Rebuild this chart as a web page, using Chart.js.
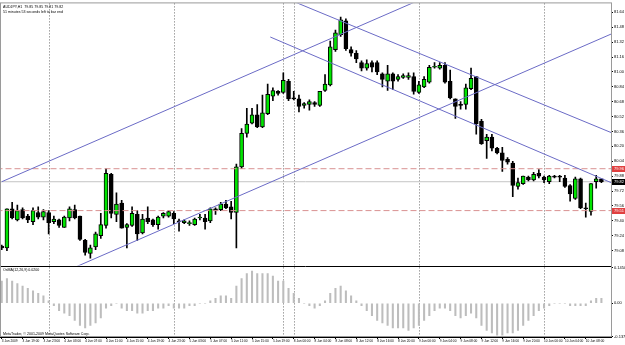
<!DOCTYPE html>
<html>
<head>
<meta charset="utf-8">
<script src="https://cdn.jsdelivr.net/npm/chart.js@4.4.0/dist/chart.umd.min.js"></script>
<style>
    html, body { margin: 0; padding: 0; background: #fff; }
    canvas { display: block; }
</style>
</head>
<body>
<canvas id="myChart" width="625" height="345"></canvas>
<script>
// AUDJPY H1 candles, one entry per hour
const openP = [79.13,79.11,79.53,79.41,79.52,79.45,79.39,79.49,79.44,79.49,79.39,79.41,79.33,79.43,79.52,79.45,79.19,79.05,79.12,79.24,
    79.35,79.90,79.47,79.59,79.33,79.35,79.47,79.27,79.43,79.41,79.36,79.45,79.45,79.48,79.40,79.38,79.37,79.36,79.43,79.43,
    79.40,79.53,79.52,79.58,79.55,79.49,79.98,80.34,80.45,80.54,80.41,80.55,80.74,80.79,80.78,80.90,80.72,80.71,80.64,80.65,
    80.67,80.64,80.80,80.86,81.24,81.40,81.55,81.24,81.20,81.10,81.04,81.10,81.10,80.98,80.90,80.98,80.92,80.94,80.94,80.95,
    80.78,80.84,80.89,81.05,81.04,81.07,80.90,80.71,80.65,80.65,80.82,80.95,80.47,80.26,80.30,80.18,80.13,80.06,80.02,79.77,
    79.80,79.87,79.84,79.91,79.87,79.82,79.88,79.88,79.86,79.78,79.64,79.85,79.54,79.50,79.82,79.85]
const highP = [79.14,79.53,79.60,79.57,79.54,79.47,79.54,79.55,79.52,79.51,79.45,79.42,79.45,79.55,79.57,79.45,79.20,79.14,79.28,79.48,
    79.96,79.91,79.70,79.62,79.37,79.55,79.51,79.47,79.55,79.42,79.45,79.49,79.51,79.50,79.42,79.41,79.40,79.43,79.47,79.47,
    79.54,79.54,79.60,79.62,79.61,80.01,80.39,80.61,80.61,80.65,80.75,80.87,80.83,80.80,80.99,80.92,80.79,80.75,80.67,80.70,
    80.68,80.79,80.97,81.33,81.45,81.59,81.57,81.27,81.23,81.12,81.13,81.12,81.12,80.99,81.07,80.99,80.97,80.98,80.99,80.99,
    80.90,80.95,81.07,81.10,81.10,81.10,81.02,80.71,80.68,80.87,81.04,80.95,80.49,80.33,80.33,80.19,80.19,80.08,80.04,79.86,
    79.88,79.88,79.92,79.95,79.88,79.89,79.89,79.89,79.89,79.79,79.87,79.86,79.59,79.80,79.89,79.85]
const lowP = [79.09,79.08,79.42,79.40,79.42,79.38,79.36,79.42,79.41,79.26,79.37,79.33,79.33,79.40,79.42,79.19,79.03,79.00,79.09,79.21,
    79.32,79.43,79.39,79.32,79.11,79.34,79.19,79.26,79.37,79.34,79.31,79.43,79.44,79.37,79.29,79.37,79.35,79.35,79.41,79.31,
    79.38,79.47,79.51,79.53,79.42,79.11,79.96,80.30,80.44,80.40,80.40,80.54,80.69,80.75,80.77,80.69,80.70,80.57,80.61,80.59,
    80.63,80.63,80.79,80.85,81.22,81.38,81.23,81.17,81.10,81.01,81.02,81.00,80.97,80.84,80.80,80.81,80.90,80.93,80.92,80.76,
    80.77,80.83,80.88,81.04,81.03,80.88,80.71,80.50,80.60,80.60,80.81,80.33,80.22,80.07,80.15,80.12,79.93,80.01,79.66,79.74,
    79.79,79.83,79.83,79.86,79.81,79.80,79.86,79.82,79.76,79.61,79.63,79.53,79.44,79.46,79.75,79.81]
const closeP = [79.11,79.53,79.43,79.51,79.43,79.41,79.51,79.44,79.50,79.38,79.42,79.35,79.44,79.53,79.43,79.20,79.06,79.11,79.26,79.36,
    79.91,79.48,79.58,79.32,79.36,79.48,79.26,79.42,79.39,79.36,79.44,79.48,79.50,79.42,79.39,79.40,79.38,79.42,79.44,79.39,
    79.53,79.51,79.58,79.54,79.49,79.98,80.34,80.44,80.54,80.41,80.56,80.76,80.80,80.77,80.91,80.71,80.71,80.63,80.66,80.68,
    80.65,80.79,80.87,81.27,81.42,81.56,81.25,81.20,81.14,81.04,81.09,81.05,81.00,80.92,80.98,80.90,80.95,80.96,80.96,80.79,
    80.86,80.92,81.05,81.06,81.07,80.89,80.72,80.63,80.64,80.83,80.93,80.44,80.23,80.30,80.18,80.13,80.05,80.03,79.78,79.81,
    79.88,79.84,79.90,79.88,79.84,79.88,79.87,79.87,79.77,79.69,79.85,79.54,79.53,79.80,79.85,79.82]

// OsMA(12,26,9) histogram, same hours
const osma = [0.09,0.10,0.09,0.08,0.07,0.06,0.05,0.04,0.03,0.01,-0.01,-0.03,-0.04,-0.05,-0.07,-0.09,-0.10,-0.09,-0.08,-0.06,
    -0.02,-0.01,0.00,-0.02,-0.03,-0.03,-0.04,-0.04,-0.03,-0.03,-0.02,-0.02,-0.01,-0.02,-0.02,-0.02,-0.01,-0.01,0.00,0.00,
    0.01,0.02,0.03,0.03,0.02,0.07,0.10,0.12,0.13,0.12,0.12,0.12,0.11,0.09,0.09,0.06,0.04,0.02,0.00,-0.01,
    -0.02,-0.01,0.01,0.04,0.06,0.07,0.05,0.03,0.01,-0.01,-0.03,-0.05,-0.07,-0.08,-0.09,-0.10,-0.10,-0.10,-0.11,-0.10,
    -0.09,-0.07,-0.05,-0.03,-0.02,-0.02,-0.03,-0.05,-0.06,-0.05,-0.04,-0.06,-0.09,-0.11,-0.12,-0.13,-0.13,-0.12,-0.12,-0.11,
    -0.09,-0.07,-0.05,-0.03,-0.02,-0.01,0.00,0.00,0.00,-0.01,-0.01,-0.01,-0.01,0.01,0.02,0.02]

// time axis: a label every 4 bars, day separators at bar index
const xTickIdx = [0,4,8,12,16,20,24,28,32,36,40,44,48,52,56,60,64,68,72,76,80,84,88,92,96,100,104,108,112]
const xTickLabels = ['3 Jun 2009','3 Jun 19:00','3 Jun 23:00','4 Jun 03:00','4 Jun 07:00','4 Jun 11:00','4 Jun 15:00','4 Jun 19:00',
    '4 Jun 23:00','5 Jun 03:00','5 Jun 07:00','5 Jun 11:00','5 Jun 15:00','5 Jun 19:00','8 Jun 00:00','8 Jun 04:00','8 Jun 08:00',
    '8 Jun 12:00','8 Jun 16:00','8 Jun 20:00','9 Jun 00:00','9 Jun 04:00','9 Jun 08:00','9 Jun 12:00','9 Jun 16:00','9 Jun 20:00',
    '10 Jun 00:00','10 Jun 04:00','10 Jun 08:00']
const daySeparators = [9,33,54,56,80,104]

// price scale labels
const yTicks = [81.64,81.48,81.32,81.16,81.00,80.84,80.68,80.52,80.36,80.20,80.04,79.88,79.72,79.56,79.40,79.24,79.08]
const oscTicks = [0.145,0,-0.137]
const oscTickLabels = ['0.1450','0.00','-0.1370']

// drawn objects: trend lines as [bar index, price] anchors, horizontal levels
const trendLines = [
    [[0,79.82],[80,81.77]],
    [[14,78.90],[117,81.41]],
    [[56,81.756],[117,80.345]],
    [[51.5,81.375],[117,79.807]]
]
const levels = [79.96,79.51]

const symbolTitle = 'AUDJPY,H1'
const timerText = '51 minutes 53 seconds left to bar end'
const copyText = 'MetaTrader, \u00a9 2001-2009 MetaQuotes Software Corp.'

let chart = null
const font = 'Liberation Sans'

const overlay = {
    id: 'overlay',
    beforeDatasetsDraw(chart) {
        const {ctx, chartArea: a, scales: {x}} = chart
        ctx.save()
        ctx.strokeStyle = '#6e6e6e'
        ctx.lineWidth = 1
        ctx.setLineDash([1, 2])
        daySeparators.forEach(d => {
            const px = Math.round(x.getPixelForValue(d)) + 0.5
            ctx.beginPath()
            ctx.moveTo(px, a.top)
            ctx.lineTo(px, a.bottom)
            ctx.stroke()
        })
        ctx.restore()
    },
    afterDraw(chart) {
        const {ctx, chartArea: a, scales: {y}} = chart
        const last = closeP.length - 1
        ctx.save()
        ctx.strokeStyle = '#000'
        ctx.lineWidth = 1
        const sy = Math.round(y.bottom) + 0.5
        ctx.beginPath()
        ctx.moveTo(a.left, sy)
        ctx.lineTo(a.right, sy)
        ctx.stroke()
        ctx.strokeStyle = '#9a9a9a'
        ctx.strokeRect(a.left + 0.5, a.top - 0.5, a.right - a.left, a.bottom - a.top)

        const tag = (v, bg) => {
            const py = Math.round(y.getPixelForValue(v))
            ctx.fillStyle = bg
            ctx.fillRect(a.right + 1, py - 3, 14, 6)
            ctx.fillStyle = '#fff'
            ctx.font = '4px "' + font + '"'
            ctx.textBaseline = 'middle'
            ctx.textAlign = 'left'
            ctx.fillText(v.toFixed(2), a.right + 3, py)
        }
        levels.forEach(v => tag(v, '#e04040'))
        tag(closeP[last], '#000')

        ctx.fillStyle = '#000'
        ctx.textBaseline = 'top'
        ctx.textAlign = 'left'
        ctx.font = '3.6px "' + font + '"'
        const ohlc = [openP[last], highP[last], lowP[last], closeP[last]].map(v => v.toFixed(2)).join(' ')
        ctx.fillText(symbolTitle + '  ' + ohlc, a.left + 3, a.top + 2)
        ctx.fillText(timerText, a.left + 3, a.top + 7)
        ctx.fillText('OsMA(12,26,9) ' + osma[last].toFixed(4), a.left + 3, y.bottom + 3)
        ctx.textBaseline = 'bottom'
        ctx.fillText(copyText, a.left + 3, a.bottom - 1)
        ctx.restore()
    }
}

function createGraph() {
    const canvas = document.getElementById('myChart')
    const idx = openP.map((_, i) => i)
    const bodyColors = idx.map(i => closeP[i] >= openP[i] ? '#00e400' : '#000000')

    const lineSets = trendLines.map(l => ({
        type: 'line',
        data: l.map(p => ({x: p[0], y: p[1]})),
        borderColor: '#6b6bc6',
        borderWidth: 1,
        pointRadius: 0,
        yAxisID: 'y',
        order: 0
    }))
    const levelSets = levels.map(v => ({
        type: 'line',
        data: [{x: -1, y: v}, {x: 118, y: v}],
        borderColor: '#d99191',
        borderWidth: 1,
        borderDash: [6, 3],
        pointRadius: 0,
        yAxisID: 'y',
        order: 1
    }))
    const bidSet = {
        type: 'line',
        data: [{x: -1, y: closeP[closeP.length - 1]}, {x: 118, y: closeP[closeP.length - 1]}],
        borderColor: '#c4c4c4',
        borderWidth: 1,
        pointRadius: 0,
        yAxisID: 'y',
        order: 5
    }

    chart = new Chart(canvas, {
        type: 'bar',
        data: {
            datasets: [
                ...lineSets,
                ...levelSets,
                bidSet,
                {
                    data: idx.map(i => ({x: i, y: [openP[i], closeP[i]]})),
                    backgroundColor: bodyColors,
                    borderColor: '#000',
                    borderWidth: 1,
                    borderSkipped: false,
                    barThickness: 4,
                    minBarLength: 1,
                    grouped: false,
                    yAxisID: 'y',
                    order: 2
                },
                {
                    data: idx.map(i => ({x: i, y: [lowP[i], highP[i]]})),
                    backgroundColor: '#000',
                    barThickness: 1,
                    grouped: false,
                    yAxisID: 'y',
                    order: 3
                },
                {
                    data: idx.map(i => ({x: i, y: osma[i]})),
                    backgroundColor: '#bdbdbd',
                    barThickness: 1.4,
                    grouped: false,
                    yAxisID: 'y2',
                    order: 4
                }
            ]
        },
        options: {
            responsive: false,
            animation: false,
            layout: { padding: { top: 1, left: 0, right: 0, bottom: 0 } },
            plugins: { legend: { display: false }, tooltip: { enabled: false } },
            scales: {
                x: {
                    type: 'linear',
                    offset: false,
                    min: -0.33,
                    max: 116.84,
                    afterBuildTicks: s => { s.ticks = xTickIdx.map(v => ({value: v})) },
                    afterFit: s => { s.height = 8 },
                    grid: { offset: false, drawOnChartArea: false, tickLength: 2, color: '#000' },
                    border: { color: '#000' },
                    ticks: {
                        autoSkip: false, maxRotation: 0, align: 'start', padding: 0,
                        color: '#000', font: { size: 3.2, family: font },
                        callback: (v, i) => xTickLabels[i]
                    }
                },
                y: {
                    type: 'linear',
                    position: 'right',
                    stack: 'mt',
                    stackWeight: 264,
                    min: 78.92,
                    max: 81.736,
                    afterBuildTicks: s => { s.ticks = yTicks.map(v => ({value: v})) },
                    afterFit: s => { s.width = 14 },
                    grid: { drawOnChartArea: false, tickLength: 2, color: '#000' },
                    border: { color: '#000' },
                    ticks: { padding: 1, color: '#000', font: { size: 4, family: font }, callback: v => v.toFixed(2) }
                },
                y2: {
                    type: 'linear',
                    position: 'right',
                    stack: 'mt',
                    stackWeight: 72,
                    min: -0.137,
                    max: 0.153,
                    afterBuildTicks: s => { s.ticks = oscTicks.map(v => ({value: v})) },
                    afterFit: s => { s.width = 14 },
                    grid: { drawOnChartArea: false, tickLength: 2, color: '#000' },
                    border: { color: '#000' },
                    ticks: { padding: 1, color: '#000', font: { size: 4, family: font }, callback: (v, i) => oscTickLabels[i] }
                }
            }
        },
        plugins: [overlay]
    })
}

createGraph()
</script>
</body>
</html>
